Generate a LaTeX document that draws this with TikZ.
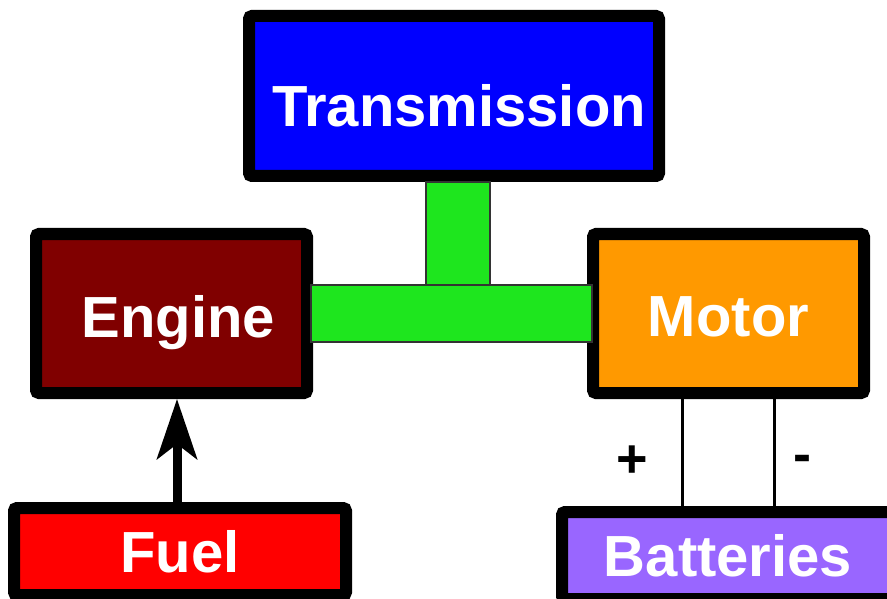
\documentclass[tikz,border=0pt]{standalone}
\usepackage{fontspec}
\setmainfont{Liberation Sans}
\usepackage{tikz}
\usetikzlibrary{arrows.meta,positioning,calc}
\usepackage{xcolor}
\definecolor{transblue}{RGB}{0,0,255}
\definecolor{enginered}{RGB}{128,0,0}
\definecolor{motororange}{RGB}{255,153,0}
\definecolor{fuelred}{RGB}{255,0,0}
\definecolor{battpurple}{RGB}{153,102,255}
\definecolor{shaftgreen}{RGB}{30,230,30}

\begin{document}
\begin{tikzpicture}[x=1pt, y=-1pt,
        part/.style={draw=black, line width=12pt, rounded corners=3pt, text=white, inner sep=0pt, text height=42pt, text depth=0pt, font=\fontsize{58}{62}\selectfont\bfseries},
        shaft/.style={draw=black!80, line width=1.5pt, fill=shaftgreen},
        wire/.style={draw=black, line width=3pt},
        sign/.style={font=\fontsize{54}{58}\selectfont\bfseries}
    ]
    \path[use as bounding box, clip] (0,0) rectangle (887,599);
    % Bloques principales
    \node[part, fill=transblue, minimum width=410pt, minimum height=160pt] (trans) at (454,96) {\raisebox{-10pt}{\hspace*{10pt}Transmission}};
    \node[part, fill=enginered, minimum width=271pt, minimum height=159pt] (engine) at (171.5,313.5) {\raisebox{-3pt}{\hspace*{14pt}Engine}};
    \node[part, fill=motororange, minimum width=271pt, minimum height=159pt] (motor) at (728.5,313.5) {\raisebox{-2pt}{Motor}};
    \node[part, fill=fuelred, minimum width=332pt, minimum height=87pt] (fuel) at (180,551.5) {Fuel};
    \node[part, fill=battpurple, minimum width=332pt, minimum height=87pt] (batt) at (728,555.5) {Batteries};
    % Eje en T
    \node[shaft, minimum width=281pt, minimum height=57pt, inner sep=0pt] (axle) at (451.5,313.5) {};
    \draw[shaft] ($(trans.south)+(-28,0)$) rectangle ($(trans.south |- axle.north)+(36,0)$);
    % Combustible
    \draw[line width=9pt, -{Stealth[length=60pt, width=40pt, inset=15pt]}] (fuel.north -| 177,0) -- (engine.south -| 177,0);
    % Cables de la batería
    \draw[wire] (motor.south -| 682,0) -- (batt.north -| 682,0);
    \draw[wire] (motor.south -| 774,0) -- (batt.north -| 774,0);
    \node[sign] (plus) at (632,462) {+};
    \node[sign] (minus) at (802,464) {-};
\end{tikzpicture}
\end{document}
